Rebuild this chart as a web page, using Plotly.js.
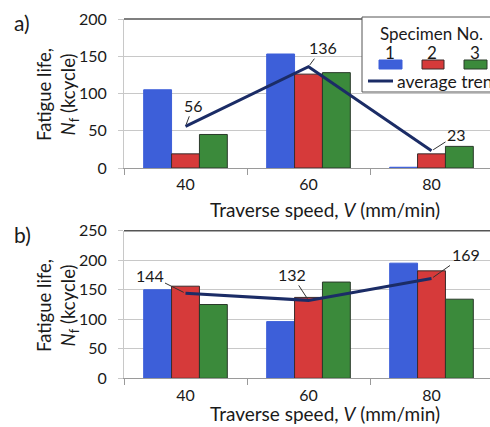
<!DOCTYPE html>
<html>
<head>
<meta charset="utf-8">
<script src="https://cdn.plot.ly/plotly-3.0.1.min.js"></script>
<style>html,body{margin:0;padding:0;background:#fff}#chart{width:490px;height:427px}</style>
</head>
<body>
<div id="chart"></div>
<script>
// ---- data ----
const speeds = ['40', '60', '80'];
const specimenNames = ['1', '2', '3'];
// panel a)
const a_spec1 = [105, 153, 1];
const a_spec2 = [19, 126, 19];
const a_spec3 = [45, 128, 29];
const a_trend = [56, 136, 23];
// panel b)
const b_spec1 = [150, 96, 195];
const b_spec2 = [156, 137, 182];
const b_spec3 = [125, 163, 134];
const b_trend = [144, 132, 169];

// ---- styles ----
const W = 490, H = 427;
const FONT = 'Lato, "Open Sans", sans-serif';
const TXT = '#1a1a1a';
const colors = ['#3d5fd9', '#d63a3a', '#3b8a3b'];
const outlines = ['#3d5fd9', '#3a2a2a', '#2a3a2a'];
const trendColor = '#1b2c66';
const px = x => x / W;
const py = y => 1 - y / H;

function bars(vals, i, xa, ya) {
  return {type: 'bar', x: speeds, y: vals, xaxis: xa, yaxis: ya, name: specimenNames[i],
    marker: {color: colors[i], line: {color: outlines[i], width: 1}}, showlegend: false, hoverinfo: 'skip'};
}
function trend(vals, xa, ya) {
  return {type: 'scatter', mode: 'lines', x: speeds, y: vals, xaxis: xa, yaxis: ya,
    line: {color: trendColor, width: 3}, showlegend: false, hoverinfo: 'skip'};
}

const data = [
  bars(a_spec1, 0, 'x', 'y'), bars(a_spec2, 1, 'x', 'y'), bars(a_spec3, 2, 'x', 'y'), trend(a_trend, 'x', 'y'),
  bars(b_spec1, 0, 'x2', 'y2'), bars(b_spec2, 1, 'x2', 'y2'), bars(b_spec3, 2, 'x2', 'y2'), trend(b_trend, 'x2', 'y2')
];

const xRangeEnd = -0.5 + (W - 124) / 123;
function xAxis(anchor) {
  return {domain: [px(124), 1], anchor: anchor, type: 'category', range: [-0.5, xRangeEnd],
    showline: true, linecolor: '#9a9a9a', linewidth: 1, ticks: 'outside', tickson: 'boundaries',
    ticklen: 6, tickcolor: '#9a9a9a', showgrid: false, zeroline: false,
    tickfont: {family: FONT, size: 16, color: TXT}, ticklabelstandoff: 2, fixedrange: true, automargin: false};
}
function yAxis(dom, anchor, maxv) {
  return {domain: dom, anchor: anchor, range: [0, maxv], dtick: 50, showline: true, linecolor: '#c8c8c8',
    ticks: 'outside', ticklen: 5, tickcolor: '#c8c8c8', gridcolor: '#c8c8c8', gridwidth: 1, zeroline: false,
    tickfont: {family: FONT, size: 16, color: TXT}, ticklabelstandoff: 8, fixedrange: true, automargin: false};
}

const annFont = {family: FONT, size: 16, color: TXT};
function label(xa, ya, vals, i, ax, ay) {
  return {xref: xa, yref: ya, x: i, y: vals[i], text: String(vals[i]), showarrow: true, arrowhead: 0, arrowwidth: 1,
    arrowcolor: '#333', ax: ax, ay: ay, standoff: 2, font: annFont, xanchor: 'center', yanchor: 'middle'};
}
function ptext(x, y, text, size, extra) {
  return Object.assign({xref: 'paper', yref: 'paper', x: px(x), y: py(y), text: text, showarrow: false,
    xanchor: 'center', yanchor: 'middle', font: {family: FONT, size: size, color: TXT}}, extra || {});
}
const yTitle = 'Fatigue life,<br><i>N</i><sub>f</sub> (kcycle)';
const xTitle = 'Traverse speed, <i>V</i> (mm/min)';

const annotations = [
  ptext(22, 22, 'a)', 21),
  ptext(22, 234, 'b)', 21),
  ptext(57, 95, yTitle, 18.5, {textangle: -90}),
  ptext(57, 306, yTitle, 18.5, {textangle: -90}),
  ptext(325, 209, xTitle, 19),
  ptext(325, 413, xTitle, 19),
  label('x', 'y', a_trend, 0, 8, -21),
  label('x', 'y', a_trend, 1, 14, -19),
  label('x', 'y', a_trend, 2, 25, -16),
  label('x2', 'y2', b_trend, 0, -36, -18),
  label('x2', 'y2', b_trend, 1, -17, -26),
  label('x2', 'y2', b_trend, 2, 34, -24),
  // legend texts
  ptext(431, 34, 'Specimen No.', 17),
  ptext(390, 52, specimenNames[0], 17),
  ptext(432, 52, specimenNames[1], 17),
  ptext(475, 52, specimenNames[2], 17),
  ptext(395, 81, 'average trend', 17.5, {xanchor: 'left'})
];

const shapes = [
  {type: 'line', xref: 'x domain', yref: 'y domain', x0: 0, x1: 1, y0: 1, y1: 1, line: {color: '#555', width: 1.5}},
  {type: 'line', xref: 'x2 domain', yref: 'y2 domain', x0: 0, x1: 1, y0: 1, y1: 1, line: {color: '#555', width: 1.5}},
  // legend box
  {type: 'rect', xref: 'paper', yref: 'paper', x0: px(362), x1: px(500), y0: py(92), y1: py(17), fillcolor: '#fff', line: {color: '#555', width: 1}, layer: 'above'},
  {type: 'rect', xref: 'paper', yref: 'paper', x0: px(379), x1: px(402), y0: py(69), y1: py(60), fillcolor: colors[0], line: {color: outlines[0], width: 1}, layer: 'above'},
  {type: 'rect', xref: 'paper', yref: 'paper', x0: px(422), x1: px(444), y0: py(69), y1: py(60), fillcolor: colors[1], line: {color: outlines[1], width: 1}, layer: 'above'},
  {type: 'rect', xref: 'paper', yref: 'paper', x0: px(464), x1: px(487), y0: py(69), y1: py(60), fillcolor: colors[2], line: {color: outlines[2], width: 1}, layer: 'above'},
  {type: 'line', xref: 'paper', yref: 'paper', x0: px(368), x1: px(393), y0: py(81), y1: py(81), line: {color: trendColor, width: 3}, layer: 'above'}
];

const layout = {
  width: W, height: H, margin: {l: 0, r: 0, t: 0, b: 0}, paper_bgcolor: '#fff', plot_bgcolor: '#fff',
  barmode: 'group', bargap: 0.32, bargroupgap: 0, showlegend: false,
  xaxis: xAxis('y'), yaxis: yAxis([py(168), py(19)], 'x', 200),
  xaxis2: xAxis('y2'), yaxis2: yAxis([py(378.3), py(230.7)], 'x2', 250),
  annotations: annotations, shapes: shapes
};

Plotly.newPlot('chart', data, layout, {staticPlot: true, displayModeBar: false});
</script>
</body>
</html>
